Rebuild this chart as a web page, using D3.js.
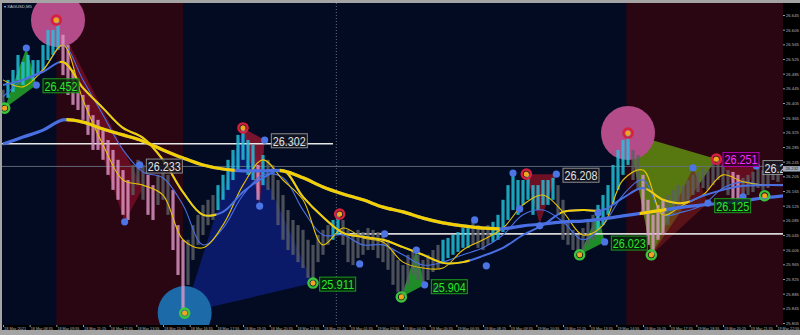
<!DOCTYPE html>
<html>
<head>
<meta charset="utf-8" />
<title>XAGUSD,M5</title>
<style>
  body { margin: 0; background: #000; }
  svg { display: block; }
  .axis text { font-family: "Liberation Sans", Arial, sans-serif; font-size: 4.2px; fill: #b8b8b8; }
  .axis path { display: none; }
  .axis line { stroke: #9a9a9a; }
</style>
</head>
<body>
<svg id="chart" width="800" height="335"></svg>
<script src="https://d3js.org/d3.v7.min.js"></script>
<script>

// bottom axis labels, one every 16 bars (M5 bars)
var timeLabels = ["18 Mar 2021","18 Mar 08:35","18 Mar 09:55","18 Mar 11:15","18 Mar 12:35","18 Mar 13:55",
  "18 Mar 15:15","18 Mar 16:35","18 Mar 17:55","18 Mar 19:15","18 Mar 20:35","18 Mar 21:55","18 Mar 23:15",
  "19 Mar 01:35","19 Mar 02:55","19 Mar 04:15","19 Mar 05:35","19 Mar 06:55","19 Mar 08:15","19 Mar 09:35",
  "19 Mar 10:55","19 Mar 12:15","19 Mar 13:35","19 Mar 14:55","19 Mar 16:15","19 Mar 17:35","19 Mar 18:55",
  "19 Mar 20:15","19 Mar 21:35","19 Mar 22:55"];
var barsPerLabel = 16;

var priceTicks = [26.645,26.605,26.565,26.525,26.485,26.445,26.405,26.365,26.325,26.285,26.245,26.205,
  26.165,26.125,26.085,26.045,26.005,25.965,25.925,25.885,25.845,25.805];

// price range sampled every 3 bars
var barsPerSample = 3;
var priceHigh = [26.441,26.468,26.495,26.536,26.517,26.536,26.522,26.522,26.563,26.604,26.604,26.631,
  26.591,26.563,26.495,26.454,26.427,26.400,26.372,26.359,26.331,26.304,26.277,26.250,26.222,26.195,
  26.236,26.250,26.236,26.209,26.181,26.209,26.222,26.209,26.168,26.072,26.032,26.032,26.072,26.100,
  26.127,26.141,26.154,26.181,26.209,26.250,26.277,26.318,26.337,26.304,26.291,26.236,26.263,26.250,
  26.236,26.195,26.154,26.113,26.086,26.072,26.059,26.032,26.018,26.045,26.059,26.072,26.086,26.102,
  26.086,26.059,26.045,26.059,26.053,26.064,26.059,26.053,26.045,26.032,26.004,25.977,25.963,25.991,
  26.004,25.991,25.977,25.991,26.004,26.018,26.032,26.037,26.045,26.053,26.064,26.072,26.081,26.072,
  26.064,26.072,26.081,26.100,26.141,26.181,26.209,26.195,26.195,26.211,26.181,26.181,26.195,26.195,
  26.201,26.181,26.141,26.086,26.059,26.045,26.064,26.086,26.100,26.127,26.154,26.181,26.236,26.277,
  26.304,26.323,26.277,26.263,26.209,26.141,26.100,26.127,26.141,26.154,26.168,26.181,26.181,26.195,
  26.209,26.217,26.228,26.222,26.244,26.252,26.236,26.222,26.217,26.209,26.201,26.209,26.217,26.228,
  26.222,26.228,26.236,26.236];
var priceLow = [26.400,26.419,26.435,26.468,26.454,26.473,26.468,26.481,26.495,26.522,26.536,26.550,
  26.481,26.427,26.400,26.386,26.359,26.318,26.277,26.277,26.250,26.209,26.168,26.141,26.100,26.086,
  26.154,26.181,26.141,26.100,26.086,26.127,26.141,26.100,26.004,25.936,25.841,25.909,25.977,26.018,
  26.045,26.072,26.086,26.113,26.141,26.168,26.195,26.222,26.250,26.209,26.195,26.141,26.181,26.168,
  26.141,26.072,26.032,26.004,25.991,25.971,25.955,25.928,25.914,25.971,25.991,26.018,26.032,26.045,
  26.018,25.971,25.963,25.982,25.991,26.004,26.004,25.982,25.971,25.950,25.909,25.890,25.876,25.909,
  25.936,25.922,25.909,25.922,25.944,25.955,25.971,25.982,25.991,25.999,26.010,26.010,26.018,26.010,
  26.004,26.018,26.026,26.032,26.053,26.086,26.113,26.100,26.127,26.141,26.100,26.113,26.127,26.127,
  26.141,26.100,26.032,26.018,26.004,25.991,26.004,26.018,26.032,26.059,26.072,26.100,26.127,26.168,
  26.209,26.236,26.195,26.168,26.100,26.018,25.991,26.032,26.045,26.072,26.100,26.113,26.127,26.141,
  26.154,26.162,26.173,26.168,26.181,26.195,26.168,26.154,26.141,26.127,26.141,26.154,26.162,26.173,
  26.168,26.173,26.195,26.190];
// candle colour runs: c = up (cyan), p = down (pink), g = neutral (grey)
var barColorRuns = [["g",1],["c",11],["p",14],["g",3],["p",2],["g",3],["p",3],["g",6],["c",8],["p",1],
  ["c",1],["g",13],["c",2],["g",20],["c",6],["g",4],["c",13],["g",8],["c",7],["g",2],["p",5],["g",13],
  ["p",2],["g",8]];

// moving averages sampled every 12 bars
var barsPerMaSample = 12;
var slowMA = [26.293,26.312,26.331,26.359,26.353,26.334,26.318,26.301,26.277,26.255,26.236,26.225,
  26.220,26.220,26.220,26.201,26.176,26.157,26.141,26.121,26.108,26.091,26.078,26.070,26.064,26.062,
  26.070,26.075,26.081,26.083,26.089,26.097,26.105,26.113,26.121,26.127,26.132,26.138,26.146,26.152];
var midMA = [26.454,26.468,26.490,26.517,26.446,26.391,26.337,26.310,26.250,26.162,26.100,26.108,
  26.162,26.201,26.222,26.149,26.094,26.051,26.040,26.032,26.012,25.991,25.969,25.971,25.988,26.010,
  26.045,26.072,26.108,26.113,26.113,26.146,26.173,26.141,26.132,26.152,26.168,26.179,26.181,26.181];
var fastYellow = [26.468,26.449,26.495,26.563,26.413,26.291,26.195,26.181,26.154,26.032,26.010,26.072,
  26.181,26.250,26.195,26.141,26.018,26.064,26.037,26.026,25.971,25.955,25.955,26.004,26.032,26.064,
  26.127,26.154,26.108,26.045,26.072,26.195,26.222,26.100,26.127,26.154,26.209,26.190,26.181,26.181];
var fastBlue = [26.422,26.468,26.495,26.563,26.468,26.372,26.277,26.217,26.201,26.127,26.018,26.064,
  26.154,26.209,26.201,26.113,26.045,26.045,26.018,26.018,25.991,25.963,25.971,25.991,26.010,26.045,
  26.100,26.113,26.081,26.032,26.072,26.154,26.195,26.100,26.108,26.127,26.173,26.190,26.181,26.181];
// bar ranges where the two-colour averages are drawn yellow
var slowYellowBars = [[38,139],[166,298],[382,398]];
var midYellowBars = [[34,128],[169,280],[334,358],[386,412]];

// shaded sessions (bar ranges)
var redZones = [[32,108],[374,480]];

// pattern triangles: [fill, opacity, points as [bar, price]]
var triangles = [
  ["#0b1a68", 1, [[109,25.832],[144,26.337],[186,25.914]]],
  ["#a01430", 0.5, [[33,26.626],[84,26.173],[73,26.081]]],
  ["#a01832", 0.75, [[144,26.337],[157,26.304],[154,26.124]]],
  ["#1f8c2a", 1, [[1,26.391],[14,26.555],[20,26.454]]],
  ["#1f8c2a", 1, [[239,25.876],[248,26.004],[253,25.909]]],
  ["#8a1226", 0.8, [[314,26.211],[332,26.211],[322,26.075]]],
  ["#1f8c2a", 1, [[346,25.991],[357,26.105],[361,26.026]]],
  ["#5a7e12", 0.95, [[375,26.323],[428,26.252],[389,25.991]]],
  ["#7a1a1a", 0.6, [[389,25.991],[414,26.228],[423,26.132]]],
  ["#8a1226", 0.6, [[428,26.252],[452,26.233],[444,26.149]]]
];

// big highlight circles [bar, price, colour]
var bigCircles = [[33,26.631,"#b44c8a"],[375,26.323,"#b44c8a"],[109,25.832,"#1c6aa8"]];

// fractal tops / bottoms [bar, price]
var topRings = [[32,26.631],[144,26.337],[202,26.102],[314,26.211],[375,26.323],[428,26.252]];
var bottomRings = [[1,26.391],[109,25.832],[186,25.914],[239,25.876],[346,25.991],[389,25.991],[457,26.152]];
var swingDots = [[14,26.555],[20,26.454],[73,26.081],[82,26.236],[157,26.304],[154,26.124],[214,25.966],
  [229,26.048],[248,26.004],[253,25.909],[260,25.898],[283,26.086],[290,25.961],[306,26.214],[310,26.116],
  [322,26.070],[332,26.211],[357,26.105],[361,26.026],[414,26.228],[423,26.132],[444,26.149],[452,26.233]];

// level labels [text, bar of left edge, style]; value = vertical centre
var levelLabels = [["26.452",24,"green"],["26.233",86,"grey"],["26.302",161,"grey"],["25.911",190,"green"],
  ["25.904",257,"green"],["26.208",336,"grey"],["26.023",365,"green"],["26.251",432,"magenta"],
  ["26.125",427,"green"],["26.229",456,"grey"]];

// horizontal levels [price, from bar, to bar, colour]
var levels = [[26.294,-2,198,"#e6e6e6"],[26.048,200,480,"#d8d8d8"],[26.232,-2,480,"#667080"]];
var currentPrice = 26.232;
var sessionBreakBar = 200;

var labelStyles = {
  green: {text: "#2ee62e", stroke: "#1f9a1f", fill: "rgba(5,40,10,0.8)"},
  grey: {text: "#e2e2e2", stroke: "#8c8c8c", fill: "rgba(20,22,34,0.8)"},
  magenta: {text: "#ff2cff", stroke: "#b000b0", fill: "rgba(45,0,40,0.8)"}
};
var candleColors = {c: "#22c4dc", p: "#dc96c6", g: "#5a5e64"};
var maYellow = "#f4cf00", maBlue = "#4a6fe2";

var svg = d3.select("#chart");
var plotL = 2, plotR = 783, plotT = 3, plotB = 325;

var x = d3.scaleLinear().domain([0, 468]).range([3, 783]);
var y = d3.scaleLinear().domain([25.805, 26.645]).range([323, 15]);

// frame, axis backgrounds, plot background
svg.append("rect").attr("width", 800).attr("height", 335).attr("fill", "#a4a4a4");
svg.append("rect").attr("x", plotL).attr("y", plotT).attr("width", 800 - plotL).attr("height", 330 - plotT).attr("fill", "#000");
svg.append("rect").attr("x", plotL).attr("y", plotT).attr("width", plotR - plotL).attr("height", plotB - plotT).attr("fill", "#020b22");

var defs = svg.append("defs");
defs.append("clipPath").attr("id", "plotClip").append("rect")
  .attr("x", plotL).attr("y", plotT).attr("width", plotR - plotL).attr("height", plotB - plotT);

var plot = svg.append("g").attr("clip-path", "url(#plotClip)");

plot.selectAll("rect.zone").data(redZones).enter().append("rect")
  .attr("class", "zone")
  .attr("x", function(d){ return x(d[0]); })
  .attr("width", function(d){ return x(d[1]) - x(d[0]); })
  .attr("y", plotT).attr("height", plotB - plotT)
  .attr("fill", "#2a0512");

plot.selectAll("polygon.tri").data(triangles).enter().append("polygon")
  .attr("class", "tri")
  .attr("points", function(d){
    return d[2].map(function(p){ return x(p[0]) + "," + y(p[1]); }).join(" ");
  })
  .attr("fill", function(d){ return d[0]; })
  .attr("fill-opacity", function(d){ return d[1]; });

plot.selectAll("circle.big").data(bigCircles).enter().append("circle")
  .attr("class", "big")
  .attr("cx", function(d){ return x(d[0]); })
  .attr("cy", function(d){ return y(d[1]); })
  .attr("r", 27)
  .attr("fill", function(d){ return d[2]; });

plot.append("line")
  .attr("x1", x(sessionBreakBar)).attr("x2", x(sessionBreakBar))
  .attr("y1", plotT).attr("y2", plotB)
  .attr("stroke", "#7c8898").attr("stroke-width", 0.8).attr("stroke-dasharray", "1,2");

plot.selectAll("line.level").data(levels).enter().append("line")
  .attr("class", "level")
  .attr("x1", function(d){ return x(d[1]); })
  .attr("x2", function(d){ return x(d[2]); })
  .attr("y1", function(d){ return y(d[0]); })
  .attr("y2", function(d){ return y(d[0]); })
  .attr("stroke", function(d){ return d[3]; })
  .attr("stroke-width", function(d, i){ return i < 2 ? 1.6 : 0.9; });

// candles
var barColors = [];
barColorRuns.forEach(function(r){ for (var k = 0; k < r[1]; k++) barColors.push(r[0]); });
var candles = priceHigh.map(function(h, i){
  return {bar: i * barsPerSample, hi: h, lo: priceLow[i], c: barColors[i]};
});
plot.selectAll("rect.candle").data(candles).enter().append("rect")
  .attr("class", "candle")
  .attr("x", function(d){ return x(d.bar) - 1.6; })
  .attr("width", 3.2)
  .attr("y", function(d){ return y(d.hi); })
  .attr("height", function(d){ return y(d.lo) - y(d.hi); })
  .attr("fill", function(d){ return candleColors[d.c]; })
  .attr("fill-opacity", 0.82);

// moving averages
var maLine = d3.line()
  .x(function(d, k){ return x(k * barsPerMaSample); })
  .y(function(d){ return y(d); })
  .curve(d3.curveCatmullRom);

function twoColourLine(values, yellowBars, width, id){
  var clip = defs.append("clipPath").attr("id", id);
  yellowBars.forEach(function(r){
    clip.append("rect").attr("x", x(r[0])).attr("width", x(r[1]) - x(r[0]))
      .attr("y", 0).attr("height", 335);
  });
  plot.append("path").attr("d", maLine(values)).attr("fill", "none")
    .attr("stroke", maBlue).attr("stroke-width", width);
  plot.append("g").attr("clip-path", "url(#" + id + ")").append("path")
    .attr("d", maLine(values)).attr("fill", "none")
    .attr("stroke", maYellow).attr("stroke-width", width);
}

plot.append("path").attr("d", maLine(fastBlue)).attr("fill", "none")
  .attr("stroke", maBlue).attr("stroke-width", 1.1);
plot.append("path").attr("d", maLine(fastYellow)).attr("fill", "none")
  .attr("stroke", "#e8c200").attr("stroke-width", 1.1);
twoColourLine(midMA, midYellowBars, 2, "midClip");
twoColourLine(slowMA, slowYellowBars, 3.2, "slowClip");

// swing dots and fractal rings
plot.selectAll("circle.dot").data(swingDots).enter().append("circle")
  .attr("class", "dot")
  .attr("cx", function(d){ return x(d[0]); })
  .attr("cy", function(d){ return y(d[1]); })
  .attr("r", 3.6)
  .attr("fill", "#4d74e4");

function rings(data, ringColour){
  var g = plot.selectAll(null).data(data).enter().append("g")
    .attr("transform", function(d){ return "translate(" + x(d[0]) + "," + y(d[1]) + ")"; });
  g.append("circle").attr("r", 4.6).attr("fill", "none").attr("stroke", ringColour).attr("stroke-width", 2.4);
  g.append("circle").attr("r", 2.6).attr("fill", "#f2a51f");
}
rings(topRings, "#d6203e");
rings(bottomRings, "#3cc43c");

// level labels
var lab = plot.selectAll("g.lab").data(levelLabels).enter().append("g")
  .attr("class", "lab")
  .attr("transform", function(d){ return "translate(" + x(d[1]) + "," + y(+d[0]) + ")"; });
lab.append("rect")
  .attr("x", 0).attr("y", -7).attr("width", 36).attr("height", 14)
  .attr("fill", function(d){ return labelStyles[d[2]].fill; })
  .attr("stroke", function(d){ return labelStyles[d[2]].stroke; })
  .attr("stroke-width", 1);
lab.append("text")
  .attr("x", 1.5).attr("y", 5)
  .attr("textLength", 33).attr("lengthAdjust", "spacingAndGlyphs")
  .style("font-family", "'Liberation Sans', Arial, sans-serif")
  .style("font-size", "13.5px")
  .attr("fill", function(d){ return labelStyles[d[2]].text; })
  .text(function(d){ return d[0]; });

// title
svg.append("text").attr("x", 4).attr("y", 8)
  .style("font-family", "'Liberation Sans', Arial, sans-serif").style("font-size", "4.2px")
  .attr("fill", "#c8c8c8").text("\u25BE XAGUSD,M5");

// axes
var yAxis = d3.axisRight(y).tickValues(priceTicks).tickFormat(d3.format(".3f")).tickSize(2).tickPadding(1);
svg.append("g").attr("class", "axis").attr("transform", "translate(" + plotR + ",0)").call(yAxis);

var xAxis = d3.axisBottom(x)
  .tickValues(timeLabels.map(function(t, i){ return i * barsPerLabel; }))
  .tickFormat(function(d, i){ return timeLabels[i]; })
  .tickSize(2).tickPadding(0.5);
var xg = svg.append("g").attr("class", "axis").attr("transform", "translate(0," + plotB + ")").call(xAxis);
xg.selectAll("text").attr("text-anchor", "start").attr("dx", "0.6")
  .attr("textLength", 22).attr("lengthAdjust", "spacingAndGlyphs");

// current price tag on the price axis
var tag = svg.append("g").attr("transform", "translate(" + plotR + "," + (y(currentPrice) + 2.4) + ")");
tag.append("rect").attr("x", 0).attr("y", -2.7).attr("width", 17).attr("height", 5.4).attr("fill", "#a3acbb");
tag.append("text").attr("x", 2.5).attr("y", 1.5)
  .style("font-family", "'Liberation Sans', Arial, sans-serif").style("font-size", "4.2px")
  .attr("fill", "#1a1a1a").text(d3.format(".3f")(currentPrice));

</script>
</body>
</html>
